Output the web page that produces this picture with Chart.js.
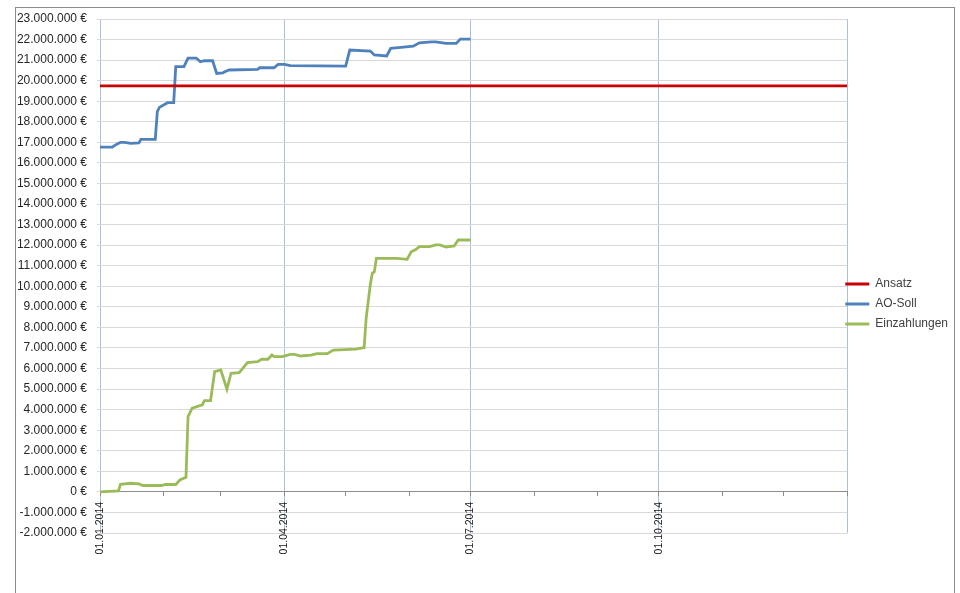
<!DOCTYPE html>
<html>
<head>
<meta charset="utf-8">
<script src="https://cdn.jsdelivr.net/npm/chart.js@4.4.0/dist/chart.umd.min.js"></script>
<style>
  html, body { margin:0; padding:0; background:#fff; }
  canvas { display:block; }
</style>
</head>
<body>
<canvas id="chart" width="960" height="593"></canvas>
<script>
// x values are days counted from 01.01.2014
const ansatzDays = [0, 365];
const ansatzValues = [19750000, 19750000];

const sollDays = [0, 6, 8, 10, 12, 15, 19, 20, 27, 28, 29, 33, 36, 37, 41, 43, 47, 49, 51, 55, 57, 60, 61, 63, 77, 78, 85, 87, 90, 93, 120, 122, 132, 134, 140, 142, 147, 153, 156, 162, 164, 169, 174, 176, 181];
const sollValues = [16770000, 16770000, 16900000, 17000000, 17000000, 16950000, 16970000, 17150000, 17150000, 18500000, 18700000, 18930000, 18930000, 20680000, 20680000, 21100000, 21100000, 20920000, 20970000, 20970000, 20350000, 20380000, 20430000, 20520000, 20550000, 20630000, 20630000, 20790000, 20790000, 20730000, 20710000, 21490000, 21440000, 21250000, 21200000, 21570000, 21620000, 21680000, 21840000, 21890000, 21890000, 21810000, 21810000, 22020000, 22020000];

const einzDays = [0, 9, 10, 15, 19, 21, 30, 32, 37, 39, 42, 43, 45, 50, 51, 54, 56, 59, 62, 64, 68, 72, 77, 79, 82, 84, 85, 89, 93, 95, 98, 103, 106, 111, 114, 125, 129, 130, 132, 133, 134, 135, 145, 150, 152, 154, 156, 161, 164, 166, 169, 173, 175, 181];
const einzValues = [0, 50000, 370000, 420000, 390000, 310000, 310000, 360000, 360000, 580000, 710000, 3660000, 4070000, 4230000, 4440000, 4440000, 5850000, 5930000, 4990000, 5770000, 5800000, 6290000, 6330000, 6450000, 6450000, 6660000, 6580000, 6580000, 6690000, 6690000, 6610000, 6650000, 6720000, 6720000, 6900000, 6940000, 7020000, 8440000, 10060000, 10630000, 10710000, 11360000, 11360000, 11310000, 11680000, 11770000, 11930000, 11930000, 12010000, 12010000, 11910000, 11960000, 12250000, 12250000];

const monthDays = [0, 31, 59, 90, 120, 151, 181, 212, 243, 273, 304, 334, 365];
const quarterDays = [0, 90, 181, 273, 365];
const quarterLabels = ['01.01.2014', '01.04.2014', '01.07.2014', '01.10.2014', ''];

const seriesNames = ['Ansatz', 'AO-Soll', 'Einzahlungen'];
const seriesColors = ['#cc0000', '#4f81bd', '#9bbb59'];

function euro(v) {
  const s = String(Math.abs(Math.round(v))).replace(/\B(?=(\d{3})+(?!\d))/g, '.');
  return (v < 0 ? '-' : '') + s + ' €';
}

function toPoints(days, values) {
  return days.map((d, i) => ({x: d, y: values[i]}));
}

// white background and the outer chart frame
const frame = {
  id: 'frame',
  beforeDraw(chart) {
    const c = chart.ctx;
    c.save();
    c.fillStyle = '#fff';
    c.fillRect(0, 0, chart.width, chart.height);
    c.strokeStyle = '#8c8c8c';
    c.lineWidth = 1;
    c.strokeRect(15.5, 7.5, 939, 600);
    c.restore();
  }
};

// legend sits half over the plot edge like in excel
const legendShift = {
  id: 'legendShift',
  afterLayout(chart) {
    const lg = chart.legend;
    lg.left -= 10; lg.right -= 10;
    lg.top += 28; lg.bottom += 28;
  }
};

const ctx = document.getElementById('chart').getContext('2d');
new Chart(ctx, {
  type: 'line',
  data: {
    datasets: [
      { label: seriesNames[0], data: toPoints(ansatzDays, ansatzValues) },
      { label: seriesNames[1], data: toPoints(sollDays, sollValues) },
      { label: seriesNames[2], data: toPoints(einzDays, einzValues) }
    ].map((ds, i) => ({ ...ds, borderColor: seriesColors[i], backgroundColor: seriesColors[i], borderWidth: 2.8, pointRadius: 0, tension: 0, fill: false }))
  },
  options: {
    responsive: false,
    animation: false,
    layout: { padding: { top: 19, bottom: 60, left: 0, right: -8 } },
    plugins: {
      tooltip: { enabled: false },
      legend: {
        position: 'right',
        labels: {
          boxWidth: 24, boxHeight: 3, padding: 8, color: '#404040',
          font: { family: 'Liberation Sans', size: 12 },
          generateLabels(chart) {
            return Chart.defaults.plugins.legend.labels.generateLabels(chart).map(l => ({ ...l, lineWidth: 0 }));
          }
        }
      }
    },
    scales: {
      x: {
        type: 'linear', min: 0, max: 365,
        position: { y: 0 },
        afterBuildTicks(scale) { scale.ticks = monthDays.map(v => ({ value: v })); },
        ticks: {
          autoSkip: false, maxRotation: 90, minRotation: 90, padding: 6,
          color: '#1a1a1a', font: { family: 'Liberation Sans', size: 10.5 },
          callback(v) { const i = quarterDays.indexOf(v); return i >= 0 ? quarterLabels[i] : ''; }
        },
        grid: {
          color: c => (c.tick && quarterDays.includes(c.tick.value)) ? '#a9c1de' : 'rgba(0,0,0,0)',
          tickColor: '#8c8c8c', tickLength: 4
        },
        border: { color: '#8c8c8c', width: 1 }
      },
      y: {
        min: -2000000, max: 23000000,
        afterFit(scale) { scale.width = 100; },
        ticks: {
          stepSize: 1000000, autoSkip: false, padding: 10,
          color: '#262626', font: { family: 'Liberation Sans', size: 12 },
          callback: v => euro(v)
        },
        grid: { color: '#d9d9d9', tickColor: '#d9d9d9', tickLength: 3 },
        border: { display: false }
      }
    }
  },
  plugins: [frame, legendShift]
});
</script>
</body>
</html>
